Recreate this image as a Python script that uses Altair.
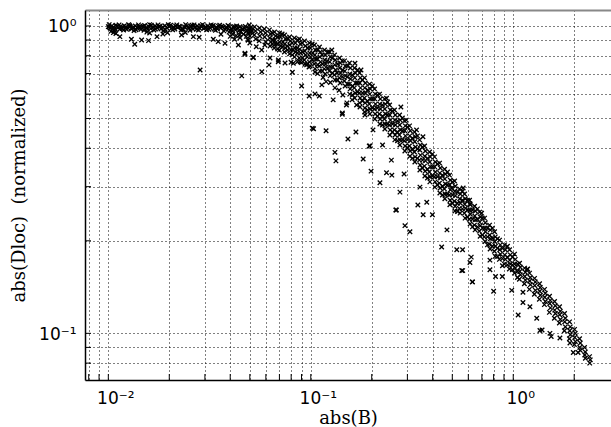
import altair as alt
import pandas as pd

# ---- tick positions / labels ----
x_ticks = [0.008, 0.009, 0.01, 0.02, 0.03, 0.04, 0.05, 0.06, 0.07, 0.08, 0.09,
           0.1, 0.2, 0.3, 0.4, 0.5, 0.6, 0.7, 0.8, 0.9, 1.0, 2.0]
y_ticks = [0.08, 0.09, 0.1, 0.2, 0.3, 0.4, 0.5, 0.6, 0.7, 0.8, 0.9, 1.0]
x_label_expr = "datum.value == 0.01 ? '10⁻²' : datum.value == 0.1 ? '10⁻¹' : datum.value == 1 ? '10⁰' : ''"
y_label_expr = "datum.value == 0.1 ? '10⁻¹' : datum.value == 1 ? '10⁰' : ''"

# ---- data: (abs(B), abs(Dloc) normalized) ----
flat_main = [
    (0.0100, 0.995), (0.0102, 0.985), (0.0104, 1.000), (0.0106, 0.990), (0.0108, 0.975), (0.0110, 0.998),
    (0.0112, 0.988), (0.0115, 0.995), (0.0117, 0.980), (0.0120, 1.002), (0.0122, 0.990), (0.0125, 0.985),
    (0.0128, 0.998), (0.0130, 0.978), (0.0133, 0.992), (0.0136, 1.000), (0.0139, 0.986), (0.0142, 0.995),
    (0.0145, 0.975), (0.0148, 0.990), (0.0151, 1.003), (0.0155, 0.985), (0.0158, 0.996), (0.0162, 0.980),
    (0.0166, 0.992), (0.0170, 1.000), (0.0174, 0.987), (0.0178, 0.995), (0.0182, 0.978), (0.0186, 0.990),
    (0.0190, 1.002), (0.0195, 0.985), (0.0200, 0.996), (0.0205, 0.982), (0.0210, 0.992), (0.0215, 1.000),
    (0.0220, 0.988), (0.0226, 0.995), (0.0232, 0.980), (0.0238, 0.992), (0.0244, 1.001), (0.0250, 0.986),
    (0.0256, 0.996), (0.0262, 0.978), (0.0268, 0.990), (0.0275, 1.000), (0.0282, 0.985), (0.0289, 0.994),
    (0.0296, 0.980), (0.0303, 0.992), (0.0310, 1.000), (0.0318, 0.987), (0.0326, 0.996), (0.0334, 0.978),
    (0.0342, 0.990), (0.0350, 0.999), (0.0359, 0.984), (0.0368, 0.993), (0.0377, 0.975), (0.0386, 0.988),
    (0.0395, 0.997), (0.0405, 0.980), (0.0415, 0.990), (0.0425, 0.970), (0.0436, 0.985), (0.0447, 0.994),
    (0.0458, 0.975), (0.0470, 0.986), (0.0482, 0.965), (0.0494, 0.980), (0.0506, 0.990),
]
flat_edge = [
    (0.0101, 1.010), (0.0107, 0.968), (0.0113, 1.008), (0.0119, 0.970), (0.0126, 1.010), (0.0134, 0.966),
    (0.0141, 1.008), (0.0150, 0.968), (0.0160, 1.010), (0.0168, 0.970), (0.0176, 1.008), (0.0188, 0.966),
    (0.0198, 1.010), (0.0208, 0.972), (0.0218, 1.008), (0.0229, 0.970), (0.0241, 1.010), (0.0253, 0.968),
    (0.0265, 1.008), (0.0279, 0.970), (0.0292, 1.010), (0.0306, 0.972), (0.0322, 1.008), (0.0338, 0.968),
    (0.0355, 1.006), (0.0372, 0.964), (0.0390, 1.004), (0.0410, 0.962), (0.0430, 1.000), (0.0452, 0.958),
    (0.0475, 0.996), (0.0500, 0.955),
    (0.0101, 0.992), (0.0105, 0.982), (0.0109, 1.005), (0.0114, 0.978), (0.0118, 0.993), (0.0123, 0.975),
    (0.0127, 1.004), (0.0132, 0.988), (0.0137, 0.972), (0.0143, 0.985), (0.0149, 0.998), (0.0156, 0.975),
    (0.0163, 1.005), (0.0171, 0.978), (0.0180, 0.998), (0.0191, 0.975), (0.0203, 1.005), (0.0213, 0.978),
    (0.0224, 0.998), (0.0235, 0.975), (0.0247, 0.993), (0.0259, 1.006), (0.0272, 0.975), (0.0286, 1.002),
    (0.0299, 0.988), (0.0314, 0.975), (0.0330, 1.003), (0.0346, 0.978), (0.0363, 0.998), (0.0381, 0.985),
    (0.0400, 0.968), (0.0420, 0.995), (0.0441, 0.962), (0.0463, 0.978), (0.0488, 0.948), (0.0512, 0.965),
    (0.0395, 0.955), (0.0412, 0.940), (0.0428, 0.930), (0.0447, 0.915), (0.0465, 0.940), (0.0480, 0.925),
    (0.0490, 0.900), (0.0500, 0.880),
]
flat_low = [
    (0.0106, 0.951), (0.0114, 0.923), (0.0130, 0.905), (0.0135, 0.872), (0.0146, 0.900), (0.0158, 0.896),
    (0.0174, 0.923), (0.0186, 0.942), (0.0230, 0.935), (0.0263, 0.923), (0.0281, 0.919), (0.0284, 0.719),
    (0.0330, 0.905), (0.0349, 0.889), (0.0377, 0.878), (0.0439, 0.867), (0.0473, 0.815), (0.0520, 0.791),
    (0.0456, 0.688), (0.0103, 0.960), (0.0109, 0.945), (0.0155, 0.955), (0.0160, 0.948), (0.0196, 0.950),
    (0.0240, 0.952), (0.0360, 0.940), (0.0400, 0.925), (0.0420, 0.905), (0.0445, 0.935), (0.0490, 0.900),
]
band = [
    (0.0497, 1.007), (0.0503, 0.978), (0.0508, 0.956), (0.0500, 0.928),
    (0.0528, 0.993), (0.0533, 0.963), (0.0526, 0.935), (0.0535, 0.907),
    (0.0558, 0.985), (0.0565, 0.956), (0.0560, 0.928), (0.0556, 0.894),
    (0.0590, 0.978), (0.0597, 0.949), (0.0592, 0.921), (0.0599, 0.887), (0.0593, 0.867),
    (0.0625, 0.971), (0.0632, 0.942), (0.0627, 0.914), (0.0634, 0.887), (0.0629, 0.861),
    (0.0662, 0.956), (0.0670, 0.928), (0.0664, 0.900), (0.0668, 0.874), (0.0660, 0.848),
    (0.0701, 0.949), (0.0708, 0.921), (0.0703, 0.887), (0.0710, 0.861), (0.0699, 0.835),
    (0.0742, 0.935), (0.0750, 0.907), (0.0744, 0.874), (0.0749, 0.848), (0.0741, 0.823),
    (0.0785, 0.921), (0.0793, 0.894), (0.0788, 0.867), (0.0795, 0.835), (0.0786, 0.811),
    (0.0830, 0.914), (0.0839, 0.880), (0.0833, 0.848), (0.0840, 0.823), (0.0831, 0.793),
    (0.0879, 0.907), (0.0888, 0.874), (0.0882, 0.841), (0.0890, 0.817), (0.0877, 0.787), (0.0886, 0.764),
    (0.0931, 0.894), (0.0940, 0.861), (0.0934, 0.829), (0.0942, 0.805), (0.0929, 0.775), (0.0938, 0.752),
    (0.0985, 0.880), (0.0995, 0.848), (0.0989, 0.817), (0.0998, 0.793), (0.0983, 0.764), (0.0993, 0.741),
    (0.1043, 0.867), (0.1053, 0.835), (0.1047, 0.805), (0.1056, 0.781), (0.1041, 0.752), (0.1050, 0.725),
    (0.1104, 0.854), (0.1115, 0.823), (0.1108, 0.793), (0.1117, 0.764), (0.1102, 0.741), (0.1112, 0.713),
    (0.1169, 0.835), (0.1180, 0.805), (0.1172, 0.775), (0.1183, 0.752), (0.1166, 0.725), (0.1177, 0.698),
    (0.1237, 0.823), (0.1249, 0.793), (0.1241, 0.764), (0.1252, 0.736), (0.1235, 0.713), (0.1246, 0.688),
    (0.1310, 0.805), (0.1321, 0.775), (0.1313, 0.747), (0.1325, 0.719), (0.1307, 0.693), (0.1318, 0.667),
    (0.1387, 0.787), (0.1399, 0.758), (0.1390, 0.730), (0.1402, 0.703), (0.1384, 0.678), (0.1396, 0.652),
    (0.1468, 0.770), (0.1481, 0.741), (0.1472, 0.713), (0.1484, 0.688), (0.1465, 0.662), (0.1478, 0.638),
    (0.1554, 0.758), (0.1568, 0.730), (0.1559, 0.698), (0.1571, 0.672), (0.1551, 0.647), (0.1565, 0.624), (0.1557, 0.600),
    (0.1645, 0.730), (0.1660, 0.703), (0.1650, 0.678), (0.1663, 0.652), (0.1642, 0.629), (0.1656, 0.605), (0.1648, 0.583),
    (0.1742, 0.703), (0.1757, 0.678), (0.1746, 0.652), (0.1760, 0.629), (0.1738, 0.605), (0.1753, 0.583), (0.1745, 0.562),
    (0.1843, 0.678), (0.1860, 0.652), (0.1848, 0.629), (0.1863, 0.605), (0.1840, 0.583), (0.1856, 0.562), (0.1850, 0.541), (0.1845, 0.525),
    (0.1951, 0.647), (0.1968, 0.624), (0.1956, 0.600), (0.1972, 0.579), (0.1948, 0.557), (0.1964, 0.537), (0.1958, 0.517),
    (0.2065, 0.624), (0.2083, 0.600), (0.2070, 0.579), (0.2087, 0.557), (0.2062, 0.537), (0.2079, 0.517), (0.2072, 0.498),
    (0.2186, 0.600), (0.2205, 0.579), (0.2192, 0.557), (0.2209, 0.537), (0.2183, 0.517), (0.2200, 0.498), (0.2194, 0.480),
    (0.2314, 0.579), (0.2334, 0.557), (0.2320, 0.537), (0.2338, 0.517), (0.2311, 0.498), (0.2329, 0.480), (0.2322, 0.462),
    (0.2450, 0.553), (0.2471, 0.533), (0.2456, 0.513), (0.2475, 0.494), (0.2446, 0.476), (0.2466, 0.459), (0.2458, 0.442),
    (0.2592, 0.533), (0.2614, 0.513), (0.2599, 0.494), (0.2618, 0.476), (0.2588, 0.459), (0.2609, 0.442), (0.2601, 0.426),
    (0.2745, 0.513), (0.2768, 0.494), (0.2751, 0.476), (0.2772, 0.459), (0.2740, 0.442), (0.2762, 0.426), (0.2754, 0.410),
    (0.2905, 0.491), (0.2930, 0.473), (0.2912, 0.456), (0.2934, 0.439), (0.2900, 0.423), (0.2924, 0.407), (0.2915, 0.392),
    (0.3075, 0.473), (0.3101, 0.456), (0.3083, 0.439), (0.3106, 0.423), (0.3070, 0.407), (0.3095, 0.392), (0.3086, 0.377),
    (0.3255, 0.452), (0.3283, 0.436), (0.3263, 0.420), (0.3288, 0.404), (0.3250, 0.389), (0.3277, 0.375), (0.3266, 0.361),
    (0.3446, 0.426), (0.3475, 0.410), (0.3454, 0.395), (0.3480, 0.380), (0.3440, 0.366), (0.3468, 0.353), (0.3458, 0.340),
    (0.3648, 0.407), (0.3679, 0.392), (0.3656, 0.377), (0.3684, 0.364), (0.3642, 0.350), (0.3671, 0.337), (0.3660, 0.325),
    (0.3861, 0.389), (0.3894, 0.375), (0.3870, 0.361), (0.3899, 0.348), (0.3855, 0.335), (0.3886, 0.323), (0.3874, 0.311),
    (0.4087, 0.375), (0.4122, 0.361), (0.4096, 0.348), (0.4127, 0.335), (0.4080, 0.323), (0.4113, 0.311), (0.4101, 0.299),
    (0.4326, 0.358), (0.4363, 0.345), (0.4336, 0.332), (0.4369, 0.320), (0.4319, 0.308), (0.4354, 0.297), (0.4340, 0.286),
    (0.4579, 0.342), (0.4618, 0.330), (0.4590, 0.318), (0.4624, 0.306), (0.4571, 0.295), (0.4608, 0.284), (0.4594, 0.274),
    (0.4847, 0.327), (0.4888, 0.315), (0.4858, 0.304), (0.4894, 0.293), (0.4838, 0.282), (0.4878, 0.271), (0.4862, 0.262),
    (0.5131, 0.313), (0.5174, 0.301), (0.5142, 0.290), (0.5180, 0.280), (0.5121, 0.269), (0.5163, 0.259), (0.5147, 0.250),
    (0.5431, 0.295), (0.5477, 0.284), (0.5443, 0.274), (0.5484, 0.265), (0.5421, 0.255), (0.5465, 0.246),
    (0.5749, 0.284), (0.5797, 0.274), (0.5762, 0.263), (0.5804, 0.255), (0.5738, 0.246), (0.5785, 0.237),
    (0.6085, 0.271), (0.6136, 0.262), (0.6098, 0.252), (0.6143, 0.244), (0.6074, 0.235), (0.6123, 0.227),
    (0.6441, 0.259), (0.6495, 0.250), (0.6455, 0.241), (0.6503, 0.234), (0.6430, 0.225), (0.6481, 0.217),
    (0.6818, 0.248), (0.6876, 0.239), (0.6833, 0.230), (0.6884, 0.224), (0.6806, 0.215), (0.6861, 0.207),
    (0.7217, 0.237), (0.7277, 0.229), (0.7232, 0.220), (0.7286, 0.214), (0.7204, 0.206), (0.7262, 0.199),
    (0.7639, 0.225), (0.7703, 0.217), (0.7655, 0.209), (0.7712, 0.203), (0.7625, 0.195), (0.7687, 0.188),
    (0.8086, 0.214), (0.8154, 0.206), (0.8103, 0.199), (0.8163, 0.192), (0.8072, 0.185), (0.8137, 0.178),
    (0.8559, 0.201), (0.8631, 0.194), (0.8577, 0.187), (0.8641, 0.181), (0.8544, 0.174),
    (0.9060, 0.194), (0.9136, 0.187), (0.9079, 0.180), (0.9147, 0.174), (0.9044, 0.168),
    (0.9590, 0.187), (0.9671, 0.180), (0.9611, 0.173), (0.9682, 0.168), (0.9573, 0.162),
    (1.0151, 0.181), (1.0237, 0.174), (1.0173, 0.168), (1.0248, 0.163), (1.0133, 0.157),
    (1.0745, 0.169), (1.0836, 0.164), (1.0768, 0.159), (1.0848, 0.155), (1.0726, 0.150),
    (1.1374, 0.163), (1.1470, 0.158), (1.1398, 0.153), (1.1483, 0.149), (1.1353, 0.145),
    (1.2038, 0.157), (1.2140, 0.152), (1.2064, 0.148), (1.2153, 0.144), (1.2016, 0.139),
    (1.2743, 0.151), (1.2850, 0.147), (1.2770, 0.143), (1.2865, 0.138), (1.2720, 0.134),
    (1.3488, 0.145), (1.3601, 0.141), (1.3517, 0.137), (1.3617, 0.133), (1.3463, 0.129),
    (1.4277, 0.139), (1.4397, 0.135), (1.4308, 0.131), (1.4414, 0.127), (1.4252, 0.124),
    (1.5113, 0.132), (1.5240, 0.128), (1.5145, 0.125), (1.5257, 0.121), (1.5086, 0.117),
    (1.5997, 0.127), (1.6131, 0.123), (1.6031, 0.119), (1.6150, 0.116), (1.5968, 0.112),
    (1.6933, 0.122), (1.7075, 0.118), (1.6969, 0.115), (1.7095, 0.111), (1.6902, 0.108),
    (1.7923, 0.116), (1.8073, 0.112), (1.7961, 0.109), (1.8094, 0.105), (1.7891, 0.102),
    (1.8973, 0.109), (1.9132, 0.105), (1.9013, 0.102), (1.9154, 0.099), (1.8939, 0.096),
    (2.0082, 0.103), (2.0251, 0.100), (2.0125, 0.097), (2.0274, 0.094), (2.0046, 0.092),
    (2.1258, 0.096), (2.1436, 0.093), (2.1303, 0.090), (2.1460, 0.088),
    (2.2502, 0.090), (2.2690, 0.087), (2.2549, 0.085), (2.2714, 0.083),
    (2.3817, 0.084), (2.4015, 0.082), (2.3870, 0.080),
]
band_fill = [
    (0.0644, 0.949), (0.0650, 0.900), (0.0647, 0.874), (0.0688, 0.921), (0.0683, 0.874), (0.0686, 0.841),
    (0.0722, 0.942), (0.0728, 0.887), (0.0724, 0.854), (0.0770, 0.907), (0.0764, 0.861), (0.0768, 0.835),
    (0.0809, 0.880), (0.0815, 0.835), (0.0811, 0.805), (0.0862, 0.900), (0.0856, 0.848), (0.0860, 0.817),
    (0.0906, 0.880), (0.0913, 0.823), (0.0909, 0.787), (0.0966, 0.848), (0.0960, 0.793), (0.0964, 0.752),
    (0.1016, 0.874), (0.1022, 0.817), (0.1018, 0.775), (0.1082, 0.835), (0.1076, 0.781), (0.1080, 0.747),
    (0.1139, 0.805), (0.1145, 0.752), (0.1141, 0.713), (0.1212, 0.823), (0.1206, 0.770), (0.1210, 0.730),
    (0.1276, 0.787), (0.1282, 0.736), (0.1278, 0.703), (0.1357, 0.752), (0.1351, 0.703), (0.1355, 0.667),
    (0.1431, 0.770), (0.1437, 0.719), (0.1433, 0.683), (0.1521, 0.741), (0.1515, 0.683), (0.1519, 0.647),
    (0.1604, 0.693), (0.1610, 0.638), (0.1606, 0.596), (0.1704, 0.719), (0.1698, 0.652), (0.1702, 0.610),
    (0.1797, 0.667), (0.1803, 0.605), (0.1799, 0.570), (0.1909, 0.619), (0.1903, 0.570), (0.1907, 0.533),
    (0.2014, 0.638), (0.2020, 0.579), (0.2016, 0.541), (0.2138, 0.596), (0.2132, 0.541), (0.2136, 0.509),
    (0.2257, 0.553), (0.2263, 0.509), (0.2259, 0.476), (0.2395, 0.566), (0.2389, 0.513), (0.2393, 0.480),
    (0.2529, 0.529), (0.2535, 0.480), (0.2531, 0.452), (0.2683, 0.491), (0.2677, 0.452), (0.2681, 0.423),
    (0.2834, 0.502), (0.2840, 0.456), (0.2836, 0.426), (0.3006, 0.469), (0.3000, 0.426), (0.3004, 0.401),
    (0.3175, 0.431), (0.3181, 0.398), (0.3177, 0.371), (0.3367, 0.439), (0.3361, 0.398), (0.3365, 0.371),
    (0.3558, 0.404), (0.3564, 0.366), (0.3560, 0.345), (0.3772, 0.371), (0.3766, 0.342), (0.3770, 0.320),
    (0.3987, 0.383), (0.3993, 0.348), (0.3989, 0.325), (0.4226, 0.356), (0.4220, 0.323), (0.4224, 0.304),
    (0.4467, 0.327), (0.4473, 0.301), (0.4469, 0.282), (0.4735, 0.335), (0.4729, 0.304), (0.4733, 0.284),
    (0.5006, 0.311), (0.5012, 0.282), (0.5008, 0.265), (0.5305, 0.288), (0.5299, 0.265), (0.5303, 0.249),
    (0.5609, 0.290), (0.5615, 0.271), (0.5611, 0.254), (0.5943, 0.271), (0.5937, 0.252), (0.5941, 0.239),
    (0.6285, 0.252), (0.6291, 0.235), (0.6287, 0.222), (0.6659, 0.254), (0.6653, 0.235), (0.6657, 0.222),
    (0.7042, 0.237), (0.7048, 0.220), (0.7044, 0.209), (0.7460, 0.220), (0.7454, 0.206), (0.7458, 0.194),
    (0.7890, 0.220), (0.7896, 0.204), (0.7892, 0.192), (0.8358, 0.203), (0.8352, 0.189), (0.8356, 0.178),
    (0.8841, 0.189), (0.8847, 0.175), (0.8843, 0.166), (0.9364, 0.192), (0.9358, 0.177), (0.9362, 0.167),
    (0.9906, 0.177), (0.9912, 0.167), (0.9908, 0.161), (1.0491, 0.168), (1.0485, 0.159), (1.0489, 0.152),
]
lower_branch = [
    (0.0538, 0.856), (0.0572, 0.835), (0.0629, 0.787), (0.0692, 0.775), (0.0746, 0.758), (0.0860, 0.765),
    (0.0954, 0.747), (0.1049, 0.708), (0.1134, 0.643), (0.1190, 0.659), (0.1316, 0.629), (0.1440, 0.596),
    (0.1508, 0.562), (0.1683, 0.553), (0.1852, 0.513), (0.2029, 0.459), (0.2262, 0.410), (0.2501, 0.366),
    (0.2890, 0.330), (0.3461, 0.299), (0.0900, 0.760), (0.0980, 0.735), (0.1080, 0.700), (0.1150, 0.680),
    (0.1250, 0.655), (0.1380, 0.618), (0.1600, 0.575), (0.1750, 0.545),
    (0.3988, 0.243), (0.4706, 0.217), (0.5261, 0.187), (0.5620, 0.187), (0.6204, 0.177), (0.7672, 0.161),
    (0.8174, 0.153), (0.8832, 0.153), (0.9830, 0.138), (1.1170, 0.136), (1.1170, 0.126), (1.2090, 0.122),
    (1.3062, 0.112), (1.3882, 0.1025), (1.5402, 0.0976), (1.7006, 0.0966), (1.9055, 0.093), (1.9796, 0.0866),
    (2.0906, 0.0866),
]
scattered = [
    (0.1526, 0.429), (0.1815, 0.369), (0.1985, 0.337), (0.2196, 0.309), (0.2786, 0.545), (0.2964, 0.494),
    (0.3329, 0.459), (0.3582, 0.436), (0.2757, 0.288), (0.3380, 0.2615), (0.3740, 0.267), (0.2366, 0.333),
    (0.2514, 0.327), (0.1960, 0.407), (0.1671, 0.452), (0.1432, 0.521),
    (0.4430, 0.191), (0.6111, 0.170), (0.5628, 0.160), (0.6294, 0.147), (0.6980, 0.246), (0.6111, 0.264),
    (1.1780, 0.162), (0.7672, 0.173), (0.3590, 0.243), (0.8001, 0.137), (0.2630, 0.252), (0.2918, 0.224),
    (0.3089, 0.214), (0.5567, 0.160), (0.6275, 0.147), (1.0578, 0.1147), (1.1720, 0.1615), (1.3546, 0.1021),
    (1.5178, 0.100),
    (0.0473, 0.809), (0.0520, 0.788), (0.0573, 0.710), (0.0622, 0.747), (0.0691, 0.765), (0.0799, 0.762),
    (0.0811, 0.707), (0.0901, 0.638), (0.0982, 0.592), (0.1049, 0.601), (0.1102, 0.592), (0.1032, 0.463),
    (0.1190, 0.456), (0.1290, 0.575), (0.1316, 0.388), (0.1331, 0.364), (0.1431, 0.516), (0.1500, 0.553),
    (0.1270, 0.835), (0.1653, 0.756), (0.1770, 0.719), (0.2366, 0.582), (0.4965, 0.297), (0.5660, 0.297),
    (0.1017, 0.465), (0.2648, 0.252), (0.1944, 0.407), (0.0820, 0.756),
]

pairs = flat_main + flat_edge + flat_low + band + band_fill + lower_branch + scattered
df = pd.DataFrame(pairs, columns=["b", "d"])

xscale = alt.Scale(type="log", domain=[0.00767, 3.04], nice=False)
yscale = alt.Scale(type="log", domain=[0.0705, 1.127], nice=False)

grid_style = dict(grid=True, gridDash=[1, 3], gridColor="black", gridWidth=1, gridOpacity=1)

points = alt.Chart(df).mark_point(
    shape="M-1,-1L1,1M-1,1L1,-1", filled=False, size=20, strokeWidth=1.3,
    color="black", opacity=1
).encode(
    x=alt.X("b:Q", scale=xscale, axis=alt.Axis(
        title="abs(B)", values=x_ticks, labelExpr=x_label_expr, ticks=False, tickSize=0,
        domainColor="black", domainWidth=1.5, labelFont="DejaVu Sans", labelFontSize=17,
        labelColor="black", labelPadding=10, labelOffset=7, labelFlush=False, labelOverlap=False,
        labelBound=False, titleFont="DejaVu Serif", titleFontSize=18, titleFontWeight="normal",
        titleColor="black", titleY=43, titleBaseline="alphabetic", **grid_style)),
    y=alt.Y("d:Q", scale=yscale, axis=alt.Axis(
        title="abs(Dloc)\u00a0\u00a0(normalized)", values=y_ticks, labelExpr=y_label_expr,
        ticks=False, tickSize=0, domainColor="black", domainWidth=1.5, labelFont="DejaVu Sans",
        labelFontSize=17, labelColor="black", labelPadding=9, labelOffset=1, labelOverlap=False,
        labelFlush=False, labelBound=False, titleFont="DejaVu Serif", titleFontSize=18,
        titleFontWeight="normal", titleColor="black", titleX=-61, titleY=185, titleAngle=270,
        titleAlign="center", titleBaseline="alphabetic", **grid_style)),
)

xt = alt.Chart(pd.DataFrame({"t": x_ticks})).mark_rule(color="black", strokeWidth=1).encode(
    x=alt.X("t:Q", scale=xscale, axis=alt.Axis(
        orient="top", title=None, labels=False, ticks=False, grid=False,
        domainColor="#888888", domainWidth=2)),
    y=alt.value(364), y2=alt.value(370),
)
yt = alt.Chart(pd.DataFrame({"t": y_ticks})).mark_rule(color="black", strokeWidth=1).encode(
    y=alt.Y("t:Q", scale=yscale, axis=None),
    x=alt.value(0), x2=alt.value(6),
)

chart = alt.layer(points, xt, yt).resolve_axis(
    x="independent", y="independent"
).properties(
    width=526, height=370,
    autosize=alt.AutoSizeParams(type="none"),
    padding={"left": 85, "top": 10, "right": 0, "bottom": 47},
    background="white",
).configure_view(stroke=None)

chart.save("out.html", embed_options={"renderer": "svg", "actions": False})
